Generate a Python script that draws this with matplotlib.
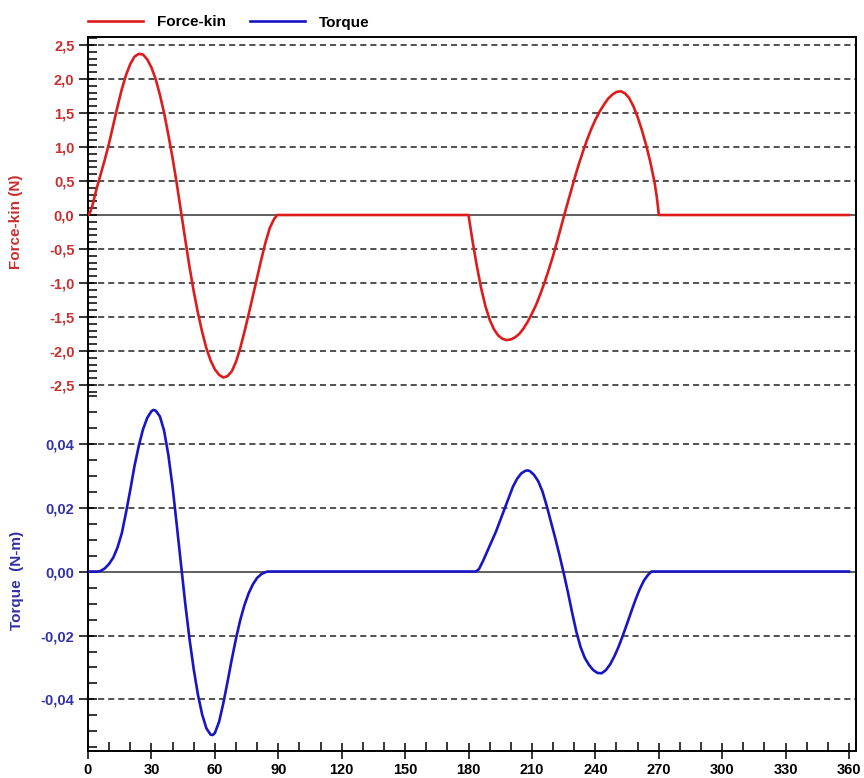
import matplotlib
matplotlib.use("Agg")
import matplotlib.pyplot as plt
from matplotlib.ticker import MultipleLocator, FixedLocator, FixedFormatter

# Force-kin (N) vs crank angle (deg)
force_deg = [0, 1, 2, 4, 6, 8, 10, 12, 14, 16, 18, 20, 22, 24, 26, 28, 30, 32,
             34, 36, 38, 40, 42, 44, 46, 48, 50, 52, 54, 56, 58, 60, 62, 64,
             66, 68, 70, 72, 74, 76, 78, 80, 82, 84, 86, 88, 89.5,
             180, 181, 182, 184, 186, 188, 190, 192, 194, 196, 198, 200, 202,
             204, 206, 208, 210, 212, 214, 216, 218, 220, 222, 224, 226, 228,
             230, 232, 234, 236, 238, 240, 242, 244, 246, 248, 250, 252, 254,
             256, 258, 260, 262, 264, 266, 268, 269, 269.7, 270, 360]
force_val = [0.0, 0.04, 0.13, 0.38, 0.60, 0.82, 1.06, 1.33, 1.60, 1.85, 2.06,
             2.22, 2.33, 2.37, 2.36, 2.29, 2.17, 2.00, 1.77, 1.50, 1.18, 0.84,
             0.46, 0.05, -0.36, -0.76, -1.12, -1.44, -1.72, -1.96, -2.14,
             -2.27, -2.35, -2.39, -2.37, -2.30, -2.16, -1.96, -1.72, -1.46,
             -1.19, -0.92, -0.65, -0.40, -0.19, -0.06, 0.0,
             0.0, -0.20, -0.40, -0.76, -1.08, -1.34, -1.54, -1.68, -1.77,
             -1.82, -1.84, -1.83, -1.80, -1.75, -1.67, -1.57, -1.45, -1.32,
             -1.16, -0.99, -0.80, -0.60, -0.38, -0.15, 0.08, 0.30, 0.52, 0.73,
             0.92, 1.10, 1.26, 1.40, 1.52, 1.62, 1.71, 1.77, 1.81, 1.82, 1.79,
             1.72, 1.60, 1.44, 1.25, 1.03, 0.78, 0.48, 0.28, 0.10, 0.0, 0.0]

# Torque (N-m) vs crank angle (deg)
torque_deg = [0, 5, 6, 8, 10, 12, 14, 16, 18, 20, 22, 24, 26, 28, 30, 31, 32,
              34, 36, 38, 40, 42, 44, 46, 48, 50, 52, 54, 56, 58, 59, 60, 62,
              64, 66, 68, 70, 72, 74, 76, 78, 80, 82, 84, 85,
              183.5, 185, 187, 189, 191, 193, 195, 197, 199, 201, 203, 205,
              207, 208, 209, 211, 213, 215, 217, 219, 221, 223, 225, 227, 229,
              231, 233, 235, 237, 239, 241, 243, 245, 247, 249, 251, 253, 255,
              257, 259, 261, 263, 265, 266.5, 360]
torque_val = [0.0, 0.0, 0.0002, 0.0010, 0.0024, 0.0044, 0.0076, 0.0120,
              0.0185, 0.0255, 0.0330, 0.0392, 0.0444, 0.0480, 0.0501, 0.0505,
              0.0503, 0.0485, 0.0440, 0.0365, 0.0265, 0.0145, 0.0022, -0.0100,
              -0.0210, -0.0305, -0.0385, -0.0447, -0.0490, -0.0510, -0.0511,
              -0.0505, -0.0470, -0.0412, -0.0345, -0.0275, -0.0210, -0.0152,
              -0.0105, -0.0068, -0.0040, -0.0020, -0.0008, -0.0002, 0.0,
              0.0, 0.0008, 0.0035, 0.0065, 0.0095, 0.0125, 0.0160, 0.0195,
              0.0230, 0.0265, 0.0290, 0.0307, 0.0315, 0.0316, 0.0314, 0.0302,
              0.0282, 0.0250, 0.0205, 0.0155, 0.0105, 0.0052, -0.0004, -0.0064,
              -0.0128, -0.0188, -0.0236, -0.0270, -0.0292, -0.0308, -0.0317,
              -0.0318, -0.0308, -0.0290, -0.0265, -0.0235, -0.0200, -0.0163,
              -0.0125, -0.0088, -0.0055, -0.0028, -0.0010, 0.0, 0.0]

x_ticks = [0, 30, 60, 90, 120, 150, 180, 210, 240, 270, 300, 330, 360]
force_ticks = [2.5, 2.0, 1.5, 1.0, 0.5, 0.0, -0.5, -1.0, -1.5, -2.0, -2.5]
force_labels = ["2,5", "2,0", "1,5", "1,0", "0,5", "0,0", "-0,5", "-1,0",
                "-1,5", "-2,0", "-2,5"]
torque_ticks = [0.04, 0.02, 0.0, -0.02, -0.04]
torque_labels = ["0,04", "0,02", "0,00", "-0,02", "-0,04"]

ROUGE = "#DD1C1C"
ROUGE_TXT = "#C8302F"
BLEU = "#1616C4"
BLEU_TXT = "#3232A6"

plt.rcParams["font.family"] = ["Liberation Sans", "DejaVu Sans"]
plt.rcParams["font.weight"] = "bold"

fig = plt.figure(figsize=(8.64, 7.78), dpi=100)
ax1 = fig.add_axes([88 / 864, 1 - 393 / 778, 768 / 864, 356 / 778])
ax2 = fig.add_axes([88 / 864, 1 - 751 / 778, 768 / 864, 358 / 778])


def habiller(ax, ticks, labels, couleur, mineur, ylim):
    ax.set_xlim(0, 363.3)
    ax.set_ylim(*ylim)
    ax.yaxis.set_major_locator(FixedLocator(ticks))
    ax.yaxis.set_major_formatter(FixedFormatter(labels))
    ax.yaxis.set_minor_locator(MultipleLocator(mineur))
    ax.tick_params(axis="y", which="major", direction="inout", length=13.5,
                   width=1.1, pad=3, labelsize=10.5, labelcolor=couleur)
    ax.tick_params(axis="y", which="minor", direction="in", length=6.5,
                   width=1.1)
    for t in ticks:
        if t == 0:
            ax.axhline(0, color="#333333", lw=1.1, zorder=1)
        else:
            ax.axhline(t, color="#222222", lw=1.1, ls=(0, (4, 2.6)), zorder=1)
    for s in ax.spines.values():
        s.set_linewidth(1.4)


habiller(ax1, force_ticks, force_labels, ROUGE_TXT, 0.1, (-2.618, 2.618))
habiller(ax2, torque_ticks, torque_labels, BLEU_TXT, 0.005, (-0.0561, 0.0558))

# panneau du haut : pas d'axe x
ax1.spines["bottom"].set_visible(False)
ax1.tick_params(axis="x", which="both", bottom=False, labelbottom=False)
ax2.spines["top"].set_visible(False)

ax2.xaxis.set_major_locator(FixedLocator(x_ticks))
ax2.xaxis.set_minor_locator(MultipleLocator(10))
ax2.tick_params(axis="x", which="major", direction="inout", length=12,
                width=1.1, pad=3, labelsize=10.5)
ax2.tick_params(axis="x", which="minor", direction="in", length=6.5, width=1.1)

l1, = ax1.plot(force_deg, force_val, color=ROUGE, lw=1.9, zorder=3,
               label="Force-kin")
l2, = ax2.plot(torque_deg, torque_val, color=BLEU, lw=1.9, zorder=3,
               label="Torque")

# titres des axes
fig.text(16 / 864, 1 - 222 / 778, "Force-kin (N)", rotation=90, ha="center",
         va="center", color=ROUGE_TXT, fontsize=11, fontweight="bold")
fig.text(17 / 864, 1 - 580 / 778, "Torque  (N-m)", rotation=90, ha="center",
         va="center", color=BLEU_TXT, fontsize=11, fontweight="bold")

fig.legend([l1, l2], ["Force-kin", "Torque"], loc="center left",
           bbox_to_anchor=(88 / 864, 1 - 22.5 / 778), ncol=2, frameon=False,
           prop={"size": 11, "weight": "bold"}, handlelength=3.6,
           handletextpad=0.9, columnspacing=1.6, borderpad=0,
           borderaxespad=0)

fig.savefig("out.png", dpi=100)
